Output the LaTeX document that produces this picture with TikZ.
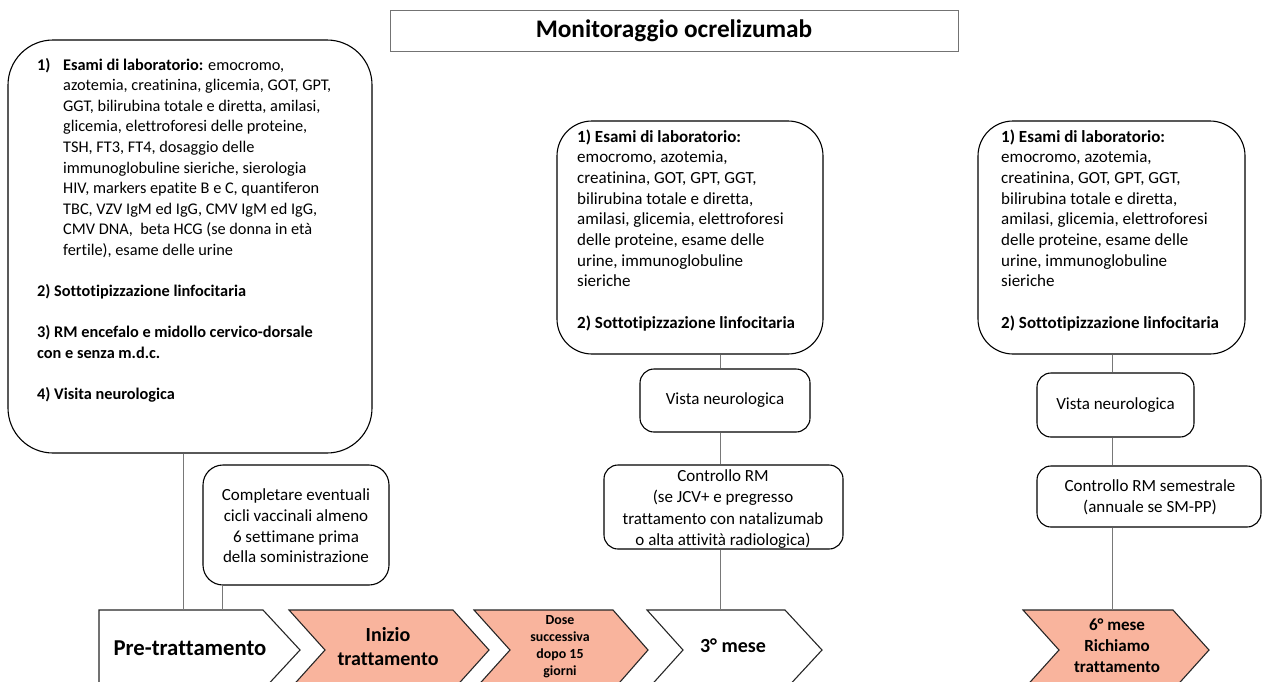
\documentclass[tikz,border=0pt]{standalone}
\usepackage{fontspec}
\setmainfont{Carlito}[Ligatures=NoCommon]
\usepackage{array}
\definecolor{salmon}{RGB}{249,180,157}
\definecolor{linkgray}{RGB}{120,120,120}
\tikzset{
  rbox/.style={draw=black, line width=1.1pt, rounded corners=#1, inner sep=0pt, fill=white},
  rbox/.default=14pt,
  titlebox/.style={draw=black!55, line width=0.8pt, inner sep=0pt},
  body/.style={inner sep=0pt, font=\fontsize{17}{20.7}\selectfont},
  bigbody/.style={inner sep=0pt, font=\fontsize{16.3}{20.6}\selectfont},
  link/.style={draw=linkgray, line width=0.9pt},
  chev/.style={draw=black!85, line width=1.1pt, line join=miter},
  chevtext/.style={inner sep=0pt, align=center, font=\bfseries}
}
\newcommand{\labtext}{%
  \renewcommand{\arraystretch}{1}%
  \begin{tabular}[t]{@{}l@{}}
  \textbf{1) Esami di laboratorio:}\\
  emocromo, azotemia,\\
  creatinina, GOT, GPT, GGT,\\
  bilirubina totale e diretta,\\
  amilasi, glicemia, elettroforesi\\
  delle proteine, esame delle\\
  urine, immunoglobuline\\
  sieriche\\
  \\
  \textbf{2) Sottotipizzazione linfocitaria}
  \end{tabular}}
\begin{document}
\begin{tikzpicture}[x=1pt, y=-1pt]
\useasboundingbox (0,0) rectangle (1263,681);

% title
\node[titlebox, minimum width=568pt, minimum height=41pt] (title) at (674,30.5) {};
\node[inner sep=0pt, font=\fontsize{25.3}{28}\selectfont\bfseries] (titletxt) at (674,31) {Monitoraggio ocrelizumab};

% pre-treatment examination box
\node[rbox=45pt, minimum width=364pt, minimum height=413pt] (lab0) at (190,246.5) {};
\node[bigbody, anchor=base west] (lab0txt) at (37,70) {%
  \renewcommand{\arraystretch}{1}%
  \begin{tabular}[t]{@{}p{26pt}@{}l@{}}
  \textbf{1)} & \textbf{Esami di laboratorio:} emocromo,\\
  & azotemia, creatinina, glicemia, GOT, GPT,\\
  & GGT, bilirubina totale e diretta, amilasi,\\
  & glicemia, elettroforesi delle proteine,\\
  & TSH, FT3, FT4, dosaggio delle\\
  & immunoglobuline sieriche, sierologia\\
  & HIV, markers epatite B e C, quantiferon\\
  & TBC, VZV IgM ed IgG, CMV IgM ed IgG,\\
  & CMV DNA,\ \ beta HCG (se donna in età\\
  & fertile), esame delle urine\\
  \multicolumn{2}{@{}l@{}}{}\\
  \multicolumn{2}{@{}l@{}}{\textbf{2) Sottotipizzazione linfocitaria}}\\
  \multicolumn{2}{@{}l@{}}{}\\
  \multicolumn{2}{@{}l@{}}{\textbf{3) RM encefalo e midollo cervico-dorsale}}\\
  \multicolumn{2}{@{}l@{}}{\textbf{con e senza m.d.c.}}\\
  \multicolumn{2}{@{}l@{}}{}\\
  \multicolumn{2}{@{}l@{}}{\textbf{4) Visita neurologica}}
  \end{tabular}};

% vaccination note
\node[rbox=20pt, minimum width=186pt, minimum height=120pt] (vacc) at (296,525) {};
\node[body, align=center] (vacctxt) at (296,526)
  {Completare eventuali\\cicli vaccinali almeno\\6 settimane prima\\della soministrazione};

% 3rd month column
\node[rbox=35pt, minimum width=266pt, minimum height=233pt] (lab1) at (690,237.5) {};
\node[body, anchor=base west] (lab1txt) at (577,142) {\labtext};
\node[rbox, minimum width=170pt, minimum height=63pt, body] (vis1) at (725,400.5) {Vista neurologica};
\node[rbox, minimum width=239pt, minimum height=84pt] (rm1) at (723.5,507) {};
\node[body, align=center, font=\fontsize{17}{21.5}\selectfont] (rm1txt) at (723,509)
  {Controllo RM\\(se JCV+ e pregresso\\trattamento con natalizumab\\o alta attività radiologica)};

% 6th month column
\node[rbox=35pt, minimum width=267pt, minimum height=233pt] (lab2) at (1111.5,237.5) {};
\node[body, anchor=base west] (lab2txt) at (1001,142) {\labtext};
\node[rbox, minimum width=157pt, minimum height=64pt, body] (vis2) at (1115.5,405) {Vista neurologica};
\node[rbox, minimum width=224pt, minimum height=61pt] (rm2) at (1149,496.5) {};
\node[body, align=center] (rm2txt) at (1150,497)
  {Controllo RM semestrale\\(annuale se SM-PP)};

% timeline chevrons
\draw[chev, fill=white]  (99,610) -- (263,610) -- (300,650) -- (263,690) -- (99,690) -- cycle;
\draw[chev, fill=salmon] (289,610) -- (453,610) -- (489,650) -- (453,690) -- (289,690) -- (325,650) -- cycle;
\draw[chev, fill=salmon] (474,610) -- (613,610) -- (648,650) -- (613,690) -- (474,690) -- (510,650) -- cycle;
\draw[chev, fill=white]  (647,610) -- (785,610) -- (822,650) -- (785,690) -- (647,690) -- (683,650) -- cycle;
\draw[chev, fill=salmon] (1023,610) -- (1173,610) -- (1209,650) -- (1173,690) -- (1023,690) -- (1059,650) -- cycle;

\node[chevtext, font=\fontsize{22.7}{26}\selectfont\bfseries] (pre) at (190,648) {Pre-trattamento};
\node[chevtext, font=\fontsize{20}{24}\selectfont\bfseries] (start) at (388,647) {Inizio\\trattamento};
\node[chevtext, font=\fontsize{13.9}{17}\selectfont\bfseries] (dose) at (560,646.5) {Dose\\successiva\\dopo 15\\giorni};
\node[chevtext, font=\fontsize{20}{23}\selectfont\bfseries] (m3) at (733,646) {3° mese};
\node[chevtext, font=\fontsize{17}{21}\selectfont\bfseries] (m6) at (1117,646) {6° mese\\Richiamo\\trattamento};

% attachment points on the chevron tops
\coordinate (preA) at (183,610);
\coordinate (preB) at (222,610);
\coordinate (m3top) at (720,610);
\coordinate (m6top) at (1112,610);

% connectors
\draw[link] (lab0.south -| preA) -- (preA);
\draw[link] (vacc.south -| preB) -- (preB);
\draw[link] (lab1.south -| m3top) -- (vis1.north -| m3top);
\draw[link] (vis1.south -| m3top) -- (rm1.north -| m3top);
\draw[link] (rm1.south -| m3top) -- (m3top);
\draw[link] (lab2.south -| m6top) -- (vis2.north -| m6top);
\draw[link] (vis2.south -| m6top) -- (rm2.north -| m6top);
\draw[link] (rm2.south -| m6top) -- (m6top);
\end{tikzpicture}
\end{document}
